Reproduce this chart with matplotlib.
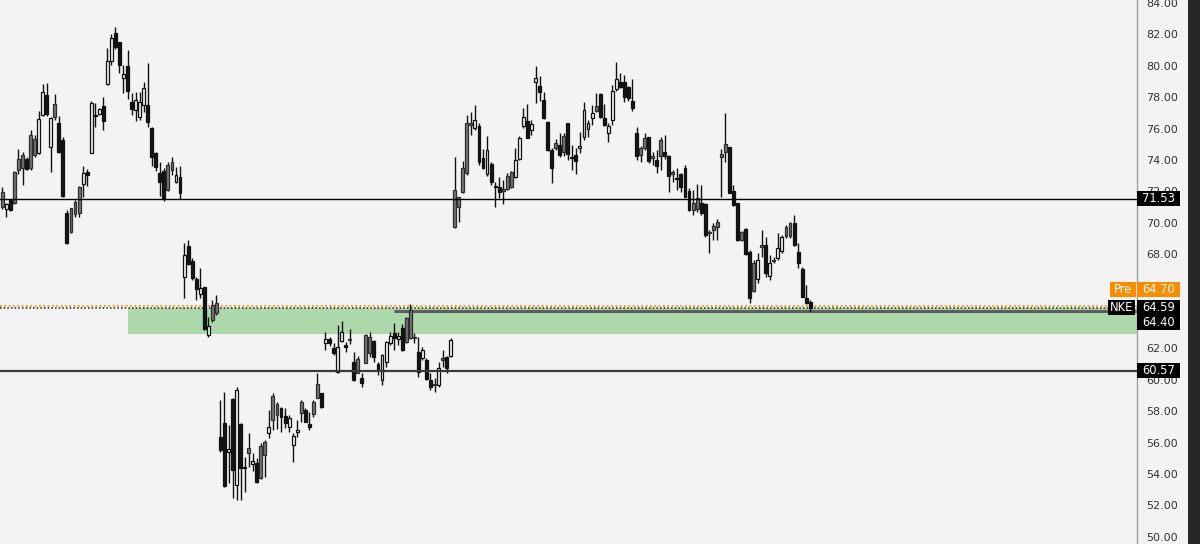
import numpy as np
import matplotlib
matplotlib.use("Agg")
import matplotlib.pyplot as plt
from matplotlib.patches import Rectangle
from matplotlib.transforms import blended_transform_factory

# OHLC values, one entry per session (oldest first)
opens = [
    71.99, 70.86, 71.46, 73.22, 74.05, 74.32, 74.05, 75.60, 75.34, 74.43,
    76.87, 78.14, 74.85, 77.57, 76.34, 75.28, 70.61, 70.93, 71.35, 72.30,
    72.45, 73.22, 74.47, 76.85, 76.91, 77.44, 78.84, 80.33, 82.11, 81.50,
    79.20, 80.01, 77.72, 77.19, 76.72, 77.51, 77.51, 76.02, 74.43, 73.20,
    73.32, 73.69, 73.90, 72.62, 72.94, 66.57, 68.55, 67.57, 66.40, 65.47,
    65.94, 62.86, 64.77, 64.92, 56.38, 57.23, 55.38, 58.78, 53.30, 57.19,
    54.43, 55.64, 54.64, 54.73, 55.79, 56.06, 56.64, 58.97, 58.46, 58.23,
    57.70, 57.02, 55.85, 56.68, 58.61, 58.08, 57.19, 58.61, 59.71, 59.14,
    62.37, 62.58, 62.00, 60.52, 62.49, 62.20, 62.60, 61.16, 61.30, 60.09,
    62.85, 62.75, 62.47, 61.01, 59.99, 61.16, 62.37, 62.96, 62.60, 63.28,
    63.92, 64.45, 62.75, 61.75, 61.37, 61.26, 59.99, 59.73, 59.67, 61.37,
    61.47, 61.52, 72.09, 71.67, 73.47, 76.34, 76.38, 76.02, 76.17, 74.11,
    73.09, 73.73, 72.30, 72.26, 72.13, 73.00, 73.26, 72.94, 74.04, 76.19,
    76.49, 75.91, 78.99, 78.74, 77.82, 76.44, 74.64, 75.11, 74.96, 75.55,
    76.34, 74.17, 74.32, 74.75, 75.49, 75.98, 76.70, 77.46, 78.18, 76.70,
    75.70, 76.55, 78.50, 78.99, 78.99, 78.63, 77.76, 75.70, 74.74, 75.38,
    75.44, 74.25, 74.00, 75.27, 74.49, 74.27, 73.21, 72.87, 73.11, 73.47,
    72.05, 71.24, 71.56, 71.24, 71.20, 69.41, 69.79, 70.07, 74.38, 75.02,
    74.81, 72.05, 71.24, 69.43, 69.58, 68.16, 67.46, 66.42, 68.58, 68.58,
    66.61, 67.63, 67.74, 68.20, 69.75, 70.01, 70.01, 68.16, 67.04, 65.19,
    64.98,
]
highs = [
    72.30, 71.29, 71.52, 73.32, 74.70, 74.49, 74.22, 75.91, 75.60, 77.15,
    78.84, 78.89, 76.76, 78.21, 76.81, 75.49, 70.82, 70.97, 71.46, 72.37,
    73.64, 73.43, 77.76, 77.61, 77.29, 77.99, 81.12, 82.03, 82.45, 81.54,
    80.05, 81.01, 78.25, 78.36, 78.36, 78.99, 80.16, 76.08, 74.49, 73.90,
    73.47, 73.90, 74.22, 73.54, 73.62, 68.74, 68.91, 67.74, 66.57, 67.10,
    65.94, 64.03, 65.09, 65.41, 58.72, 59.25, 57.12, 58.82, 59.52, 57.27,
    55.11, 56.64, 55.36, 55.00, 56.00, 56.17, 58.08, 59.18, 58.61, 58.29,
    58.19, 57.76, 56.59, 57.44, 58.72, 58.19, 57.97, 58.72, 60.42, 59.18,
    63.07, 62.75, 62.32, 63.49, 63.77, 62.43, 63.21, 61.79, 61.52, 60.41,
    62.92, 63.07, 62.54, 61.16, 61.64, 62.49, 63.07, 63.64, 63.07, 63.55,
    64.02, 64.83, 62.96, 62.75, 62.11, 61.37, 60.45, 60.09, 61.16, 61.90,
    61.52, 62.68, 74.21, 71.67, 73.94, 76.87, 77.04, 77.51, 76.34, 74.70,
    75.53, 73.85, 72.62, 72.90, 72.73, 73.15, 73.30, 74.79, 75.55, 77.34,
    77.55, 76.55, 80.01, 79.37, 78.36, 76.49, 74.75, 75.34, 75.70, 75.70,
    76.38, 74.96, 74.79, 75.76, 77.68, 76.55, 77.51, 78.29, 78.25, 77.55,
    76.34, 78.78, 80.22, 79.52, 79.42, 78.74, 79.16, 76.08, 74.89, 75.74,
    75.44, 74.53, 74.64, 75.49, 75.59, 74.32, 73.36, 73.47, 73.15, 73.68,
    72.19, 72.09, 72.47, 72.41, 71.24, 69.54, 70.01, 70.24, 74.68, 77.01,
    74.85, 72.41, 71.28, 69.50, 69.69, 68.27, 67.63, 68.05, 69.54, 69.12,
    67.95, 67.84, 69.33, 69.22, 69.86, 70.07, 70.50, 68.69, 67.21, 66.04,
    65.08,
]
lows = [
    70.86, 70.39, 70.78, 71.18, 73.11, 72.41, 73.37, 73.37, 74.22, 74.36,
    76.83, 76.83, 73.26, 76.55, 74.43, 71.67, 68.65, 69.33, 70.39, 70.35,
    71.67, 72.35, 74.47, 76.13, 76.87, 75.91, 78.78, 80.05, 81.10, 79.52,
    78.25, 77.89, 76.87, 76.49, 76.55, 77.08, 76.13, 73.64, 73.30, 71.73,
    71.39, 72.05, 73.05, 72.52, 71.52, 65.19, 67.32, 66.36, 65.09, 65.24,
    63.18, 62.75, 63.71, 64.13, 55.42, 53.20, 53.41, 52.45, 52.35, 52.35,
    52.88, 54.43, 54.22, 53.41, 53.66, 53.83, 56.28, 56.81, 56.85, 56.70,
    56.91, 56.70, 54.75, 56.38, 57.34, 57.29, 56.81, 57.61, 58.82, 58.20,
    61.90, 62.15, 61.58, 60.45, 62.43, 61.79, 62.28, 59.95, 60.41, 59.52,
    61.05, 61.47, 61.16, 60.31, 59.67, 60.79, 62.22, 61.90, 62.22, 61.86,
    62.32, 62.60, 62.32, 60.16, 61.26, 59.99, 59.35, 59.25, 59.56, 60.84,
    60.41, 61.47, 69.69, 70.07, 71.88, 73.05, 75.59, 75.91, 73.68, 73.43,
    73.00, 72.41, 71.03, 71.56, 71.20, 72.09, 72.20, 72.88, 74.00, 76.06,
    75.38, 75.59, 77.61, 77.76, 76.61, 74.58, 72.52, 74.64, 74.22, 74.28,
    74.00, 73.37, 73.09, 74.43, 75.28, 75.49, 76.23, 77.04, 76.66, 76.17,
    75.13, 76.23, 78.40, 78.57, 77.72, 77.76, 77.12, 74.00, 73.89, 74.64,
    73.79, 73.68, 73.15, 73.36, 74.04, 71.98, 72.62, 72.09, 71.98, 71.62,
    70.77, 70.50, 70.71, 70.50, 69.12, 68.05, 68.90, 68.90, 71.66, 73.89,
    71.88, 71.07, 68.86, 68.86, 67.95, 64.91, 65.61, 66.14, 67.84, 66.57,
    66.36, 67.42, 67.63, 68.05, 69.01, 69.01, 68.54, 67.10, 65.25, 64.83,
    64.34,
]
closes = [
    71.03, 71.18, 70.82, 71.29, 73.37, 73.47, 73.45, 73.48, 74.32, 76.59,
    78.31, 76.93, 76.66, 76.76, 74.53, 71.73, 68.70, 69.40, 70.56, 70.61,
    73.20, 73.05, 77.65, 76.78, 77.25, 76.51, 80.33, 81.75, 81.18, 80.05,
    79.46, 78.40, 77.25, 77.83, 77.72, 78.61, 76.45, 74.22, 73.58, 72.62,
    71.56, 72.09, 73.37, 73.05, 71.88, 67.95, 67.38, 66.47, 65.77, 65.87,
    63.22, 63.45, 63.81, 64.28, 55.53, 53.25, 55.60, 54.26, 59.35, 54.41,
    54.37, 55.36, 54.83, 53.52, 53.73, 55.21, 57.02, 57.44, 57.76, 57.61,
    57.23, 57.55, 56.42, 56.81, 57.87, 57.34, 57.02, 57.83, 58.82, 58.25,
    62.58, 62.37, 61.69, 62.11, 63.07, 62.11, 62.54, 59.99, 60.45, 59.82,
    61.09, 61.69, 61.47, 60.63, 61.58, 62.43, 62.79, 62.64, 62.79, 61.90,
    62.43, 62.64, 62.64, 60.52, 61.90, 60.03, 59.56, 59.67, 60.73, 61.26,
    60.73, 62.54, 69.76, 71.03, 71.99, 73.15, 76.23, 76.55, 73.90, 73.51,
    74.64, 72.58, 72.26, 71.99, 72.00, 72.13, 72.30, 74.00, 75.38, 76.76,
    75.43, 76.27, 79.25, 78.31, 76.66, 74.64, 73.47, 74.79, 74.32, 74.49,
    74.36, 74.13, 73.94, 74.89, 77.19, 76.38, 76.98, 77.12, 76.76, 76.23,
    76.19, 78.40, 79.16, 78.67, 78.04, 77.93, 77.34, 74.25, 74.32, 74.74,
    73.93, 74.10, 73.64, 74.25, 74.24, 72.98, 73.11, 72.79, 72.30, 71.66,
    70.81, 70.82, 70.86, 70.64, 69.22, 69.35, 69.54, 69.75, 74.17, 74.53,
    71.92, 71.13, 68.90, 68.92, 68.01, 65.19, 65.68, 67.63, 68.44, 66.78,
    67.42, 67.59, 68.37, 69.12, 69.13, 69.14, 68.58, 67.42, 65.29, 64.87,
    64.59,
]

# levels drawn on the chart
level_upper = 71.53
level_lower = 60.57
zone_low, zone_high = 62.92, 64.59
zone_start = 31          # session where the green zone begins
pivot_level = 64.40
pivot_start = 97         # session where the 64.40 line begins
pre_price = 64.70
last_price = closes[-1]
ticker = "NKE"

BG = "#f3f3f3"
W, H = 1200, 544
plot_right = 1137  # px

fig = plt.figure(figsize=(W / 100, H / 100), dpi=100, facecolor=BG)
ax = fig.add_axes([0, 0, plot_right / W, 1], facecolor=BG)

o = np.array(opens); h = np.array(highs); l = np.array(lows); c = np.array(closes)
x = np.arange(len(o))
prev_c = np.r_[c[0], c[:-1]]

# hollow = close above open; filled black/gray by close vs previous close
up = c >= o
black = (~up) & (c < prev_c)
gray = (~up) & (c >= prev_c)

xmin, xmax = -0.57, 280.9
ymin, ymax = 49.54, 84.19
ax.set_xlim(xmin, xmax)
ax.set_ylim(ymin, ymax)

# zone + levels
ax.add_patch(Rectangle((zone_start, zone_low), xmax - zone_start, zone_high - zone_low,
                       facecolor="#acd8ab", edgecolor="none", zorder=1))
ax.axhline(pre_price, color="#ff9100", lw=1.3, ls=(0, (1, 1.4)), zorder=1.5)
ax.axhline(last_price, color="#222222", lw=1.1, ls=(0, (1, 1.4)), zorder=1.5)
ax.hlines(pivot_level, pivot_start, xmax, color="#5e5e5e", lw=2.2, zorder=1.6)

# candles
width = 0.72
ax.vlines(x, l, h, color="#111111", lw=1.0, zorder=2)
body_lo = np.minimum(o, c)
body_h = np.maximum(np.abs(c - o), 0.07)
face = np.where(up, BG, np.where(black, "#151515", "#767676"))
edge = np.where(gray, "#2e2e2e", "#111111")
ax.bar(x, body_h, width, bottom=body_lo, color=face, edgecolor=edge,
       linewidth=0.9, zorder=3)

ax.axhline(level_upper, color="#000000", lw=1.0, zorder=4)
ax.axhline(level_lower, color="#3a3a3a", lw=1.6, zorder=4)

# axis styling
for s in ["top", "left", "bottom"]:
    ax.spines[s].set_visible(False)
ax.spines["right"].set_color("#a0a0a0")
ax.spines["right"].set_linewidth(1.0)
ax.set_xticks([])
ax.yaxis.tick_right()
yt = np.arange(50, 85, 2)
ax.set_yticks(yt)
ax.set_yticklabels([f"{v:.2f}" for v in yt], fontsize=8, color="#333333")
ax.tick_params(axis="y", length=0, pad=6.5)

# right-hand dark strip
fig.add_artist(Rectangle((1188 / W, 0), 1 - 1188 / W, 1, transform=fig.transFigure,
                         facecolor="#262626", edgecolor="none", zorder=0))

# price tags
tr = blended_transform_factory(fig.transFigure, ax.transData)
ppx = (ymax - ymin) / H  # price per pixel


def tag(x0, x1, price, text, bg, shift_px=0):
    yc = price + shift_px * ppx
    hh = 15 * ppx
    fig.add_artist(Rectangle((x0 / W, yc - hh / 2), (x1 - x0) / W, hh, transform=tr,
                             facecolor=bg, edgecolor="none", zorder=10))
    fig.text((x0 + x1) / 2 / W, yc, text, transform=tr, ha="center", va="center",
             color="white", fontsize=8.3, zorder=11)


tag(1137, 1180, level_upper, f"{level_upper:.2f}", "#000000")
tag(1137, 1180, level_lower, f"{level_lower:.2f}", "#000000")
tag(1110, 1136, pre_price, "Pre", "#fb8c00", shift_px=16)
tag(1137, 1180, pre_price, f"{pre_price:.2f}", "#fb8c00", shift_px=16)
tag(1108, 1135, last_price, ticker, "#000000")
tag(1137, 1180, last_price, f"{last_price:.2f}", "#000000")
tag(1137, 1180, pivot_level, f"{pivot_level:.2f}", "#000000", shift_px=-12)

fig.savefig("out.png", dpi=100, facecolor=BG)
